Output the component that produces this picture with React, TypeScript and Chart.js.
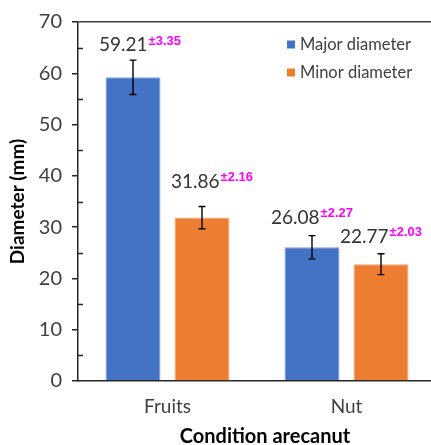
import React, { useEffect, useRef } from 'react';
import { Chart, registerables } from 'chart.js';

Chart.register(...registerables);

const categories = ['Fruits', 'Nut'];
const seriesNames = ['Major diameter', 'Minor diameter'];
const majorValues = [59.21, 26.08];
const majorErrors = [3.35, 2.27];
const minorValues = [31.86, 22.77];
const minorErrors = [2.16, 2.03];
const yMin = 0;
const yMax = 70;
const yStep = 10;
const xTitle = 'Condition arecanut';
const yTitle = 'Diameter (mm)';

const FONT = 'Lato, "Noto Sans", sans-serif';
const SUP_FONT = '"Liberation Sans", Arial, sans-serif';
const COLORS = ['#4472C4', '#ED7D31'];
const BORDERS = ['#7f9fd8', '#f4a573'];
// label placement tweaks (pixels): [dataset][category]
const LABEL_LIFT = [[9, 12], [19, 11]];
const LABEL_DX = [[7, 0], [10, 0]];

const overlayPlugin = {
  id: 'overlay',
  afterDatasetsDraw(chart: any) {
    const ctx = chart.ctx;
    const y = chart.scales.y;
    const area = chart.chartArea;
    const errs = [majorErrors, minorErrors];
    ctx.save();
    // minor ticks inside the y axis
    ctx.strokeStyle = '#262626';
    ctx.lineWidth = 1.5;
    for (let v = yMin + yStep / 2; v < yMax; v += yStep) {
      const py = Math.round(y.getPixelForValue(v)) + 0.5;
      ctx.beginPath();
      ctx.moveTo(area.left, py);
      ctx.lineTo(area.left + 5, py);
      ctx.stroke();
    }
    chart.data.datasets.forEach((ds: any, i: number) => {
      const meta = chart.getDatasetMeta(i);
      meta.data.forEach((bar: any, j: number) => {
        const v = ds.data[j];
        const e = errs[i][j];
        const top = y.getPixelForValue(v + e);
        const bot = y.getPixelForValue(v - e);
        const x = bar.x;
        ctx.strokeStyle = '#000';
        ctx.lineWidth = 1.4;
        ctx.beginPath();
        ctx.moveTo(x, top);
        ctx.lineTo(x, bot);
        ctx.moveTo(x - 3.5, top);
        ctx.lineTo(x + 3.5, top);
        ctx.moveTo(x - 3.5, bot);
        ctx.lineTo(x + 3.5, bot);
        ctx.stroke();
        // label
        const main = v.toFixed(2);
        const sup = '±' + e.toFixed(2);
        ctx.font = `19px ${FONT}`;
        const mw = ctx.measureText(main).width;
        ctx.font = `bold 13px ${SUP_FONT}`;
        const sw = ctx.measureText(sup).width;
        const start = x + LABEL_DX[i][j] - (mw + sw + 1) / 2;
        const base = top - LABEL_LIFT[i][j];
        ctx.textAlign = 'left';
        ctx.textBaseline = 'alphabetic';
        ctx.fillStyle = '#333333';
        ctx.font = `19px ${FONT}`;
        ctx.fillText(main, start, base);
        ctx.fillStyle = '#FF00FF';
        ctx.font = `bold 13px ${SUP_FONT}`;
        ctx.fillText(sup, start + mw + 1, base - 6.5);
      });
    });
    // legend
    const lx = area.right - 149;
    chart.data.datasets.forEach((ds: any, i: number) => {
      const cy = 44.5 + i * 28;
      ctx.fillStyle = COLORS[i];
      ctx.fillRect(lx, cy - 4, 8, 8);
      ctx.fillStyle = '#404040';
      ctx.font = `16.5px ${FONT}`;
      ctx.textBaseline = 'middle';
      ctx.textAlign = 'left';
      ctx.fillText(ds.label, lx + 13, cy);
    });
    // x title
    ctx.fillStyle = '#000';
    ctx.font = `bold 20px ${FONT}`;
    ctx.textAlign = 'center';
    ctx.textBaseline = 'alphabetic';
    ctx.fillText(xTitle, (area.left + area.right) / 2 + 8, 443);
    ctx.restore();
  },
};

export default function App() {
  const ref = useRef<HTMLCanvasElement | null>(null);
  useEffect(() => {
    if (!ref.current) return;
    const chart = new Chart(ref.current, {
      type: 'bar',
      data: {
        labels: categories,
        datasets: [
          {
            label: seriesNames[0],
            data: majorValues,
            backgroundColor: COLORS[0],
            borderColor: BORDERS[0],
            borderWidth: 1,
            categoryPercentage: 0.771,
            barPercentage: 0.797,
          },
          {
            label: seriesNames[1],
            data: minorValues,
            backgroundColor: COLORS[1],
            borderColor: BORDERS[1],
            borderWidth: 1,
            categoryPercentage: 0.771,
            barPercentage: 0.797,
          },
        ],
      },
      options: {
        responsive: false,
        animation: false,
        layout: { padding: { left: 0, top: 20, right: 4, bottom: 0 } },
        plugins: {
          legend: { display: false },
          tooltip: { enabled: false },
        },
        scales: {
          x: {
            grid: { display: false, drawTicks: false },
            border: { display: true, color: '#262626', width: 1.5 },
            ticks: {
              color: '#404040',
              font: { family: FONT, size: 19 },
              padding: 14,
            },
            afterFit: (s: any) => {
              s.height = 64;
            },
          },
          y: {
            min: yMin,
            max: yMax,
            ticks: {
              stepSize: yStep,
              color: '#404040',
              font: { family: FONT, size: 20 },
              padding: 10,
            },
            grid: {
              drawOnChartArea: true,
              color: (c: any) => (c.tick && c.tick.value === yMax ? '#404040' : 'rgba(0,0,0,0)'),
              lineWidth: 1.5,
              tickColor: '#262626',
              tickLength: 6,
            },
            border: { display: true, color: '#262626', width: 1.5 },
            title: {
              display: true,
              text: yTitle,
              color: '#000',
              font: { family: FONT, size: 19, weight: 'bold' },
              padding: { top: 6, bottom: 0 },
            },
            afterFit: (s: any) => {
              s.width = 78;
            },
          },
        },
      },
      plugins: [overlayPlugin],
    });
    return () => chart.destroy();
  }, []);
  return (
    <div style={{ position: 'absolute', left: 0, top: 0, width: 431, height: 445, overflow: 'hidden', background: '#fff' }}>
      <canvas ref={ref} width={440} height={445} style={{ display: 'block', width: 440, height: 445 }} />
    </div>
  );
}
